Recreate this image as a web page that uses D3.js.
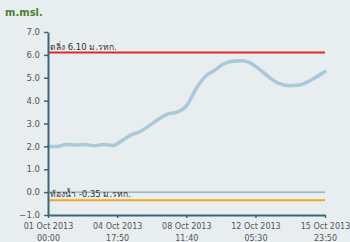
<!DOCTYPE html>
<html>
<head>
<meta charset="utf-8">
<script src="https://cdn.jsdelivr.net/npm/d3@7"></script>
<style>
  body { margin: 0; background: #e8eef0; }
  svg text { font-family: "DejaVu Sans", sans-serif; }
</style>
</head>
<body>
<div id="chart"></div>
<script>
// water level readings, every 12 hours
var times = ["2013-10-01 00:00", "2013-10-01 12:00", "2013-10-02 00:00", "2013-10-02 12:00",
    "2013-10-03 00:00", "2013-10-03 12:00", "2013-10-04 00:00", "2013-10-04 12:00",
    "2013-10-05 00:00", "2013-10-05 12:00", "2013-10-06 00:00", "2013-10-06 12:00",
    "2013-10-07 00:00", "2013-10-07 12:00", "2013-10-08 00:00", "2013-10-08 12:00",
    "2013-10-09 00:00", "2013-10-09 12:00", "2013-10-10 00:00", "2013-10-10 12:00",
    "2013-10-11 00:00", "2013-10-11 12:00", "2013-10-12 00:00", "2013-10-12 12:00",
    "2013-10-13 00:00", "2013-10-13 12:00", "2013-10-14 00:00", "2013-10-14 12:00",
    "2013-10-15 00:00", "2013-10-15 12:00", "2013-10-15 23:50"];
var levels = [2.0, 2.0, 2.08, 2.06, 2.08, 2.03, 2.08, 2.04, 2.25, 2.5,
    2.65, 2.92, 3.2, 3.42, 3.5, 3.78, 4.5, 5.05, 5.32, 5.6,
    5.72, 5.74, 5.63, 5.33, 5.0, 4.75, 4.65, 4.67, 4.8, 5.02, 5.27];

var yTicks = [-1, 0, 1, 2, 3, 4, 5, 6, 7];
var xTicks = ["2013-10-01 00:00", "2013-10-04 17:50", "2013-10-08 11:40", "2013-10-12 05:30", "2013-10-15 23:50"];

var bankLevel = 6.10;
var bedLevel = -0.35;
var bankLabel = "ตลิ่ง 6.10 ม.รทก.";
var bedLabel = "ท้องน้ำ -0.35 ม.รทก.";

var parse = d3.timeParse("%Y-%m-%d %H:%M");
var data = times.map(function(t, i) {
    return { date: parse(t), value: levels[i] };
});

var width = 350, height = 242;
var plotLeft = 48, plotRight = 325, plotTop = 32, plotBottom = 215;

var svg = d3.select("#chart").append("svg")
    .attr("width", width)
    .attr("height", height);

svg.append("rect")
    .attr("width", width)
    .attr("height", height)
    .attr("fill", "#e8eef0");

var x = d3.scaleTime()
    .domain([parse(times[0]), parse(times[times.length - 1])])
    .range([plotLeft, plotRight]);

var y = d3.scaleLinear()
    .domain([-1, 7])
    .range([plotBottom, plotTop]);

// title
svg.append("text")
    .attr("x", 5)
    .attr("y", 16)
    .attr("font-size", "10px")
    .attr("font-weight", "bold")
    .attr("fill", "#4f7f2e")
    .text("m.msl.");

// zero line
svg.append("line")
    .attr("x1", x.range()[0])
    .attr("x2", x.range()[1])
    .attr("y1", y(0))
    .attr("y2", y(0))
    .attr("stroke", "#6f97a6")
    .attr("stroke-width", 1);

// bank + river bed reference lines
svg.append("line")
    .attr("x1", x.range()[0])
    .attr("x2", x.range()[1])
    .attr("y1", y(bankLevel))
    .attr("y2", y(bankLevel))
    .attr("stroke", "#e0282a")
    .attr("stroke-width", 2);

svg.append("line")
    .attr("x1", x.range()[0])
    .attr("x2", x.range()[1])
    .attr("y1", y(bedLevel))
    .attr("y2", y(bedLevel))
    .attr("stroke", "#f5a52a")
    .attr("stroke-width", 2);

svg.append("text")
    .attr("x", plotLeft + 2)
    .attr("y", y(bankLevel) - 3)
    .attr("font-size", "8.5px")
    .attr("fill", "#333")
    .text(bankLabel);

svg.append("text")
    .attr("x", plotLeft + 2)
    .attr("y", y(bedLevel) - 3)
    .attr("font-size", "8.5px")
    .attr("fill", "#333")
    .text(bedLabel);

// water level line
var line = d3.line()
    .x(function(d) { return x(d.date); })
    .y(function(d) { return y(d.value); })
    .curve(d3.curveMonotoneX);

svg.append("path")
    .datum(data)
    .attr("d", line)
    .attr("fill", "none")
    .attr("stroke", "#a9c8da")
    .attr("stroke-width", 3.5)
    .attr("stroke-linejoin", "round")
    .attr("stroke-linecap", "round");

// axes
var yAxis = svg.append("g")
    .attr("transform", "translate(" + plotLeft + ",0)")
    .call(d3.axisLeft(y).tickValues(yTicks).tickSize(4).tickSizeOuter(0).tickFormat(d3.format(".1f")));

var xAxis = svg.append("g")
    .attr("transform", "translate(0," + plotBottom + ")")
    .call(d3.axisBottom(x).tickValues(xTicks.map(parse)).tickSize(3).tickSizeOuter(0).tickFormat(""));

svg.selectAll(".domain")
    .attr("stroke", "#3b6676")
    .attr("stroke-width", 2);
svg.selectAll(".tick line")
    .attr("stroke", "#3b6676")
    .attr("stroke-width", 1.5);
yAxis.selectAll("text")
    .attr("font-size", "8.5px")
    .attr("fill", "#555")
    .attr("dx", "-1px");

var fmtDay = d3.timeFormat("%d %b %Y");
var fmtTime = d3.timeFormat("%H:%M");
xAxis.selectAll(".tick").each(function(d) {
    var g = d3.select(this);
    g.append("text")
        .attr("y", 14)
        .attr("text-anchor", "middle")
        .attr("font-size", "8px")
        .attr("fill", "#555")
        .text(fmtDay(d));
    g.append("text")
        .attr("y", 26)
        .attr("text-anchor", "middle")
        .attr("font-size", "8px")
        .attr("fill", "#555")
        .text(fmtTime(d));
});
</script>
</body>
</html>
